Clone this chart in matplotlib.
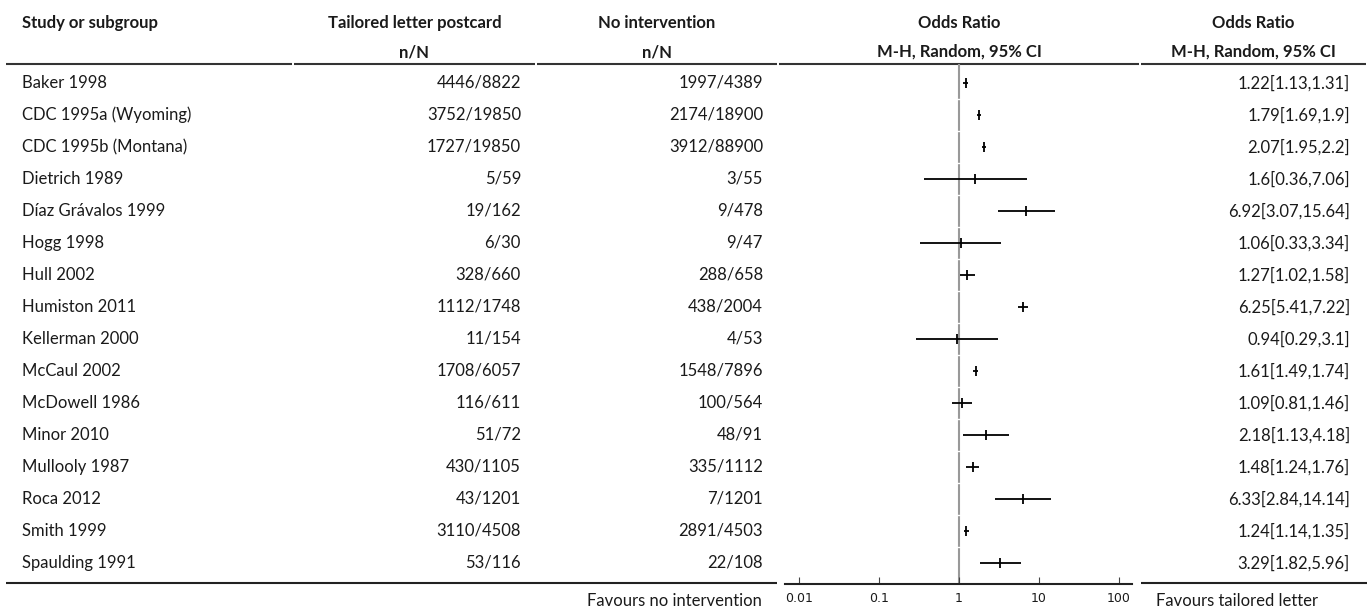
import numpy as np
import matplotlib.pyplot as plt

# Studien und Daten
studies = ["Baker 1998", "CDC 1995a (Wyoming)", "CDC 1995b (Montana)", "Dietrich 1989",
           "Díaz Grávalos 1999", "Hogg 1998", "Hull 2002", "Humiston 2011",
           "Kellerman 2000", "McCaul 2002", "McDowell 1986", "Minor 2010",
           "Mullooly 1987", "Roca 2012", "Smith 1999", "Spaulding 1991"]
events_t = [4446, 3752, 1727, 5, 19, 6, 328, 1112, 11, 1708, 116, 51, 430, 43, 3110, 53]
total_t = [8822, 19850, 19850, 59, 162, 30, 660, 1748, 154, 6057, 611, 72, 1105, 1201, 4508, 116]
events_c = [1997, 2174, 3912, 3, 9, 9, 288, 438, 4, 1548, 100, 48, 335, 7, 2891, 22]
total_c = [4389, 18900, 88900, 55, 478, 47, 658, 2004, 53, 7896, 564, 91, 1112, 1201, 4503, 108]
odds = [1.22, 1.79, 2.07, 1.6, 6.92, 1.06, 1.27, 6.25, 0.94, 1.61, 1.09, 2.18, 1.48, 6.33, 1.24, 3.29]
ci_low = [1.13, 1.69, 1.95, 0.36, 3.07, 0.33, 1.02, 5.41, 0.29, 1.49, 0.81, 1.13, 1.24, 2.84, 1.14, 1.82]
ci_high = [1.31, 1.9, 2.2, 7.06, 15.64, 3.34, 1.58, 7.22, 3.1, 1.74, 1.46, 4.18, 1.76, 14.14, 1.35, 5.96]
ticks = [0.01, 0.1, 1, 10, 100]
tick_labels = ["0.01", "0.1", "1", "10", "100"]

W, H = 1370, 614
txt = '#1a1a1a'
font = ['Lato', 'DejaVu Sans']
fs = 12

fig = plt.figure(figsize=(W / 100, H / 100), dpi=100)

# Hintergrund-Achse in Pixelkoordinaten
ax = fig.add_axes([0, 0, 1, 1])
ax.set_xlim(0, W)
ax.set_ylim(H, 0)
ax.axis('off')

# Spalten
cols = [(5, 293), (293, 536), (536, 778), (778, 1140), (1140, 1367)]
row_y = [83 + 32 * i for i in range(len(studies))]

# Kopfzeilen
head1 = ["Study or subgroup", "Tailored letter postcard", "No intervention", "Odds Ratio", "Odds Ratio"]
head2 = ["", "n/N", "n/N", "M-H, Random, 95% CI", "M-H, Random, 95% CI"]
for i, (a, b) in enumerate(cols):
    if i == 0:
        ax.text(22, 23, head1[i], ha='left', va='center', fontsize=fs, fontweight='bold', family=font, color=txt)
    else:
        c = (a + b) / 2
        ax.text(c, 23, head1[i], ha='center', va='center', fontsize=fs, fontweight='bold', family=font, color=txt)
        ax.text(c, 52, head2[i], ha='center', va='center', fontsize=fs, fontweight='bold', family=font, color=txt)
    ax.plot([a + 1, b - 1], [64, 64], color='#333333', lw=1.5, solid_capstyle='butt')

# Tabellenzeilen
for i, y in enumerate(row_y):
    ax.text(22, y, studies[i], ha='left', va='center', fontsize=fs, family=font, color=txt)
    ax.text(521, y, f"{events_t[i]}/{total_t[i]}", ha='right', va='center', fontsize=fs, family=font, color=txt)
    ax.text(763, y, f"{events_c[i]}/{total_c[i]}", ha='right', va='center', fontsize=fs, family=font, color=txt)
    ax.text(1350, y, f"{odds[i]:g}[{ci_low[i]:g},{ci_high[i]:g}]", ha='right', va='center',
            fontsize=fs, family=font, color=txt)

# Untere Linie
ax.plot([6, 777], [583, 583], color='#222222', lw=1.5, solid_capstyle='butt')
ax.plot([1141, 1367], [583, 583], color='#222222', lw=1.5, solid_capstyle='butt')
ax.text(762, 601, "Favours no intervention", ha='right', va='center', fontsize=fs, family=font, color=txt)
ax.text(1156, 601, "Favours tailored letter", ha='left', va='center', fontsize=fs, family=font, color=txt)

# Forest-Plot
x0, x1, y0, y1 = 785, 1132, 64, 584
fa = fig.add_axes([x0 / W, 1 - y1 / H, (x1 - x0) / W, (y1 - y0) / H])
fa.set_facecolor('none')
fa.set_xscale('log')
fa.set_xlim(10 ** ((x0 - 959) / 80), 10 ** ((x1 - 959) / 80))
fa.set_ylim((y1 - 83) / 32, (y0 - 83) / 32)
for s in ['top', 'left', 'right']:
    fa.spines[s].set_visible(False)
fa.spines['bottom'].set_linewidth(1.5)
fa.spines['bottom'].set_color('#222222')
fa.set_yticks([])
fa.set_xticks(ticks)
fa.set_xticklabels(tick_labels)
fa.minorticks_off()
fa.tick_params(axis='x', direction='in', length=5, width=0.8, color='#444444', pad=6,
               labelsize=9, labelcolor=txt)

fa.axvline(1, color='#999999', lw=1.5, zorder=1)
for i in range(len(studies) - 1):
    fa.axhline(i + 0.5, color='white', lw=1, zorder=2)

idx = np.arange(len(studies))
fa.hlines(idx, ci_low, ci_high, color='black', lw=1.3, zorder=3)
fa.plot(odds, idx, linestyle='none', marker='|', markersize=7, markeredgewidth=1.3, color='black', zorder=4)

fig.savefig('out.png', dpi=100)
